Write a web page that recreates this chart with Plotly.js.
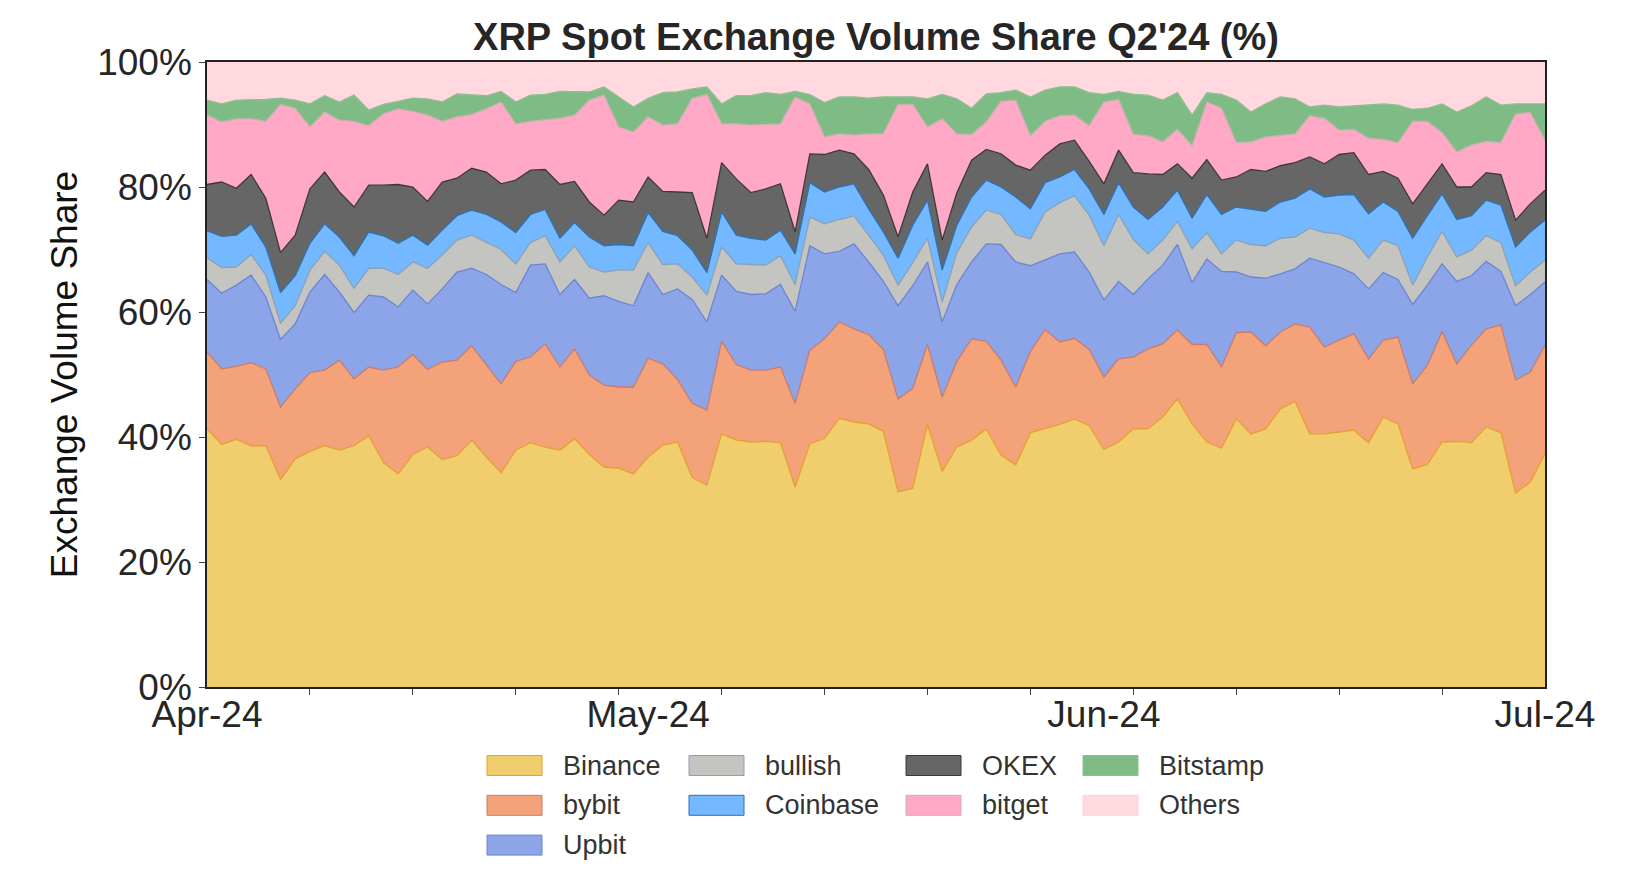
<!DOCTYPE html>
<html>
<head>
<meta charset="utf-8">
<script src="https://cdn.plot.ly/plotly-3.0.1.min.js"></script>
<style>
  html, body { margin: 0; padding: 0; background: #fff; }
  #chart { width: 1634px; height: 884px; }
</style>
</head>
<body>
<div id="chart"></div>
<script>
// Daily share (%) of XRP spot volume, 2024-04-01 .. 2024-07-01
const startDate = '2024-04-01';
const names = ['Binance', 'bybit', 'Upbit', 'bullish', 'Coinbase', 'OKEX', 'bitget', 'Bitstamp', 'Others'];
const yTickVals = [0, 20, 40, 60, 80, 100];
const yTickText = ['0%', '20%', '40%', '60%', '80%', '100%'];

const binance = [41.3,38.8,39.6,38.6,38.6,33.2,36.5,37.7,38.6,37.9,
  38.6,40.2,35.9,34.1,37.2,38.4,36.4,37.0,39.5,36.8,
  34.3,37.9,39.1,38.4,37.9,39.7,37.2,35.2,35.0,34.1,
  36.8,38.7,39.2,33.5,32.3,40.5,39.5,39.2,39.3,39.1,
  32.0,38.9,39.8,43.0,42.4,42.1,40.9,31.2,31.8,42.0,
  34.5,38.4,39.5,41.3,37.1,35.5,40.7,41.4,42.0,42.9,
  41.8,38.0,39.2,41.3,41.3,43.2,46.1,42.1,39.2,38.2,
  42.9,40.5,41.3,44.5,45.7,40.5,40.5,40.8,41.1,39.1,
  43.2,42.1,34.9,35.6,39.2,39.3,39.1,41.6,40.7,31.0,
  32.8,37.3];
const bybit = [12.3,12.1,11.7,13.3,12.3,11.6,11.2,12.6,12.1,14.4,
  10.7,11.0,14.8,17.1,16.0,12.4,15.6,15.3,15.1,14.7,
  14.2,14.2,13.7,16.5,13.3,14.4,12.7,13.1,13.0,13.9,
  15.8,13.0,10.0,11.9,12.0,14.8,12.1,11.5,11.4,12.1,
  13.4,15.0,15.9,15.4,14.9,14.3,13.1,14.9,16.0,12.8,
  11.9,13.7,16.2,14.0,15.2,12.5,13.0,15.8,13.2,12.9,
  12.2,11.6,13.3,11.5,12.8,11.7,11.0,12.7,15.6,13.0,
  13.8,16.3,13.3,12.3,12.4,17.1,13.9,14.7,15.4,13.4,
  12.3,13.9,13.6,15.9,17.7,12.4,15.6,15.7,17.2,18.1,
  17.6,17.4];
const upbit = [11.6,12.1,13.0,14.0,11.5,10.8,10.4,12.9,15.3,10.9,
  10.6,11.5,11.7,9.6,10.3,10.5,11.7,14.1,12.4,14.5,
  15.9,11.0,14.7,12.8,11.6,11.1,12.3,14.3,13.7,13.0,
  13.7,11.1,14.5,16.6,14.1,10.6,11.7,12.1,12.2,13.2,
  14.7,16.7,13.6,11.3,13.6,11.6,10.9,14.9,16.4,13.2,
  12.0,12.3,12.3,15.6,18.5,20.0,13.7,11.2,14.1,13.8,
  12.4,12.3,12.4,10.0,11.2,12.6,13.7,9.9,13.7,15.3,
  9.7,8.8,10.8,9.3,8.8,11.0,13.5,11.7,9.6,11.2,
  10.8,9.2,12.7,12.8,10.8,13.2,11.1,10.8,8.6,11.9,
  12.4,10.1];
const bullish = [3.5,4.1,2.9,3.3,3.5,2.6,2.9,3.5,3.7,4.3,
  3.9,4.3,4.6,5.2,4.5,5.7,5.4,5.1,5.3,5.2,
  5.6,4.6,3.6,4.5,5.2,5.4,5.0,3.8,5.0,5.7,
  4.8,4.8,4.0,3.6,4.3,4.5,4.4,4.8,4.6,4.6,
  4.3,4.6,4.8,5.1,4.5,4.3,4.2,3.3,3.7,3.8,
  3.2,5.1,5.6,5.4,4.8,4.4,4.3,7.6,8.2,9.0,
  9.1,8.7,10.7,8.8,4.0,4.0,3.7,5.4,4.2,2.8,
  5.1,5.2,5.2,5.7,5.1,4.8,4.8,5.3,5.4,4.9,
  5.2,5.4,3.1,4.5,5.2,3.9,4.1,4.1,4.6,3.2,
  3.6,3.5];
const coinbase = [4.3,5.0,5.1,4.9,4.5,4.9,4.8,4.3,4.4,4.5,
  5.2,5.8,5.2,5.0,4.3,3.7,4.0,3.9,4.0,4.4,
  4.4,5.0,4.5,4.2,3.8,3.7,4.8,4.2,4.1,3.9,
  4.8,5.3,4.5,4.3,3.6,5.6,4.6,4.2,4.0,4.1,
  4.9,5.5,5.1,5.2,5.1,4.2,3.7,4.3,6.0,6.1,
  5.1,4.4,4.8,4.8,4.4,6.0,4.8,4.7,4.1,4.2,
  4.2,5.0,5.1,5.2,5.5,5.3,5.0,4.9,6.1,6.3,
  5.3,5.6,5.5,5.8,6.2,6.3,5.7,6.2,7.3,7.1,
  6.1,5.5,7.5,6.6,6.0,6.0,5.5,5.7,6.0,6.2,
  6.4,6.4];
const okex = [7.4,8.7,7.5,7.9,7.8,6.4,6.5,8.7,8.3,7.2,
  7.8,7.5,8.1,9.4,7.7,7.0,7.7,6.0,6.7,6.8,
  6.1,8.4,7.1,6.4,8.6,6.6,5.6,4.9,7.1,7.0,
  5.7,6.4,7.0,9.2,5.5,7.9,9.0,7.3,8.2,7.4,
  3.5,4.6,6.0,5.9,4.8,6.3,5.9,3.4,5.3,5.8,
  4.8,5.2,5.9,4.9,5.3,5.1,6.2,4.4,5.3,4.7,
  4.4,4.9,5.2,5.5,7.3,5.2,4.2,6.4,5.6,5.5,
  4.8,6.4,6.4,5.8,5.7,5.1,5.3,6.5,6.7,6.3,
  4.9,5.3,5.5,5.1,4.8,5.2,4.6,4.4,4.9,4.3,
  4.5,4.8];
const bitget = [11.1,9.6,11.1,8.9,12.3,23.7,20.3,9.9,9.6,11.5,
  13.7,9.5,11.4,12.1,12.1,13.8,9.7,9.8,8.6,10.1,
  13.1,9.0,7.8,7.9,10.6,10.6,16.3,19.2,11.7,11.2,
  9.6,10.6,10.9,15.1,23.0,6.2,8.8,10.8,10.3,9.6,
  21.6,8.0,2.8,2.6,3.0,5.7,9.8,21.2,14.0,5.9,
  19.4,9.4,4.1,4.4,8.4,10.4,5.5,5.4,4.5,4.0,
  5.7,13.1,8.1,6.1,6.1,5.2,5.5,5.2,9.2,11.5,
  5.5,4.4,5.5,4.9,4.6,6.6,7.3,3.9,3.7,5.8,
  5.1,5.7,13.2,10.0,5.0,5.6,6.7,5.0,5.1,17.0,
  14.6,8.0];
const bitstamp = [2.4,2.9,3.0,3.0,3.5,1.0,1.3,3.7,2.6,2.9,
  4.2,2.5,1.5,1.2,2.1,2.6,3.1,3.7,3.2,2.1,
  1.7,3.5,4.2,4.1,4.3,3.8,1.3,1.3,4.8,4.0,
  3.0,5.2,5.1,1.5,1.2,3.2,4.5,4.7,5.1,4.7,
  0.9,1.5,5.5,5.9,6.1,5.7,5.9,1.2,1.2,4.5,
  3.9,5.6,4.2,4.5,1.4,1.6,6.2,5.0,4.6,4.5,
  5.3,1.2,1.3,6.4,6.5,6.7,5.9,4.9,1.5,2.2,
  6.8,4.8,5.3,6.1,5.6,1.4,2.1,3.7,3.8,5.3,
  5.7,6.0,1.9,2.1,4.6,6.4,6.3,7.1,6.0,1.6,
  1.4,5.8];
const others = [6.1,6.7,6.1,6.1,6.0,5.8,6.1,6.7,5.4,6.4,
  5.3,7.7,6.8,6.3,5.8,5.9,6.4,5.1,5.2,5.4,
  4.7,6.4,5.3,5.2,4.7,4.7,4.8,4.0,5.6,7.2,
  5.8,4.9,4.8,4.3,4.0,6.7,5.4,5.4,4.9,5.2,
  4.7,5.2,6.5,5.6,5.6,5.8,5.6,5.6,5.6,5.9,
  5.2,5.9,7.4,5.1,4.9,4.5,5.6,4.5,4.0,4.0,
  4.9,5.2,4.7,5.2,5.3,6.1,4.9,8.5,4.9,5.2,
  6.1,8.0,6.7,5.6,5.9,7.2,6.9,7.2,7.0,6.9,
  6.7,6.9,7.6,7.4,6.7,8.0,7.0,5.6,6.9,6.7,
  6.7,6.7];

const series = [binance, bybit, upbit, bullish, coinbase, okex, bitget, bitstamp, others];

// styling
const fills = ['#F0CE6E', '#F4A279', '#8CA4E8', '#C4C4C0', '#74B9FF', '#666666', '#FFA9C6', '#7FBB85', '#FFD8E0'];
const edges = ['#E6A030', '#C97C6C', '#6A85D6', '#8EA0B2', '#2B72B8', '#3A3A3A', '#CBB0B0', '#8CBF8E', '#FFD0DA'];

// dates
const dates = [];
{
  const [y, m, d] = startDate.split('-').map(Number);
  for (let i = 0; i < binance.length; i++) {
    const dt = new Date(Date.UTC(y, m - 1, d + i));
    dates.push(dt.toISOString().slice(0, 10));
  }
}

const traces = series.map((vals, i) => ({
  type: 'scatter',
  mode: 'lines',
  name: names[i],
  x: dates,
  y: vals,
  stackgroup: 'one',
  groupnorm: i === 0 ? 'percent' : undefined,
  fill: 'tonexty',
  fillcolor: fills[i],
  line: { color: edges[i], width: i === 8 ? 0 : 1.3, shape: 'linear' },
  showlegend: false,
  hoverinfo: 'x+y+name'
}));

// plot area in pixels
const W = 1634, H = 884;
const L = 207, R = 1545, T = 62, B = 687;
const px = x => (x - L) / (R - L);
const py = y => (B - y) / (B - T);

// custom legend (column-major, 4 columns)
const legendCols = [[0, 1, 2], [3, 4], [5, 6], [7, 8]];
const colX = [487, 689, 906, 1083];
const rowY = [765.5, 805.3, 845.1];
const swW = 55, swH = 20, textGap = 74;
const shapes = [];
const annotations = [];
legendCols.forEach((col, c) => {
  col.forEach((idx, r) => {
    const x0 = colX[c], yc = rowY[r];
    shapes.push({
      type: 'rect', xref: 'paper', yref: 'paper',
      x0: px(x0), x1: px(x0 + swW), y0: py(yc + swH / 2), y1: py(yc - swH / 2),
      fillcolor: fills[idx], line: { color: edges[idx], width: 1 }
    });
    annotations.push({
      xref: 'paper', yref: 'paper', x: px(x0 + textGap), y: py(yc),
      xanchor: 'left', yanchor: 'middle', showarrow: false,
      text: names[idx], font: { family: 'Liberation Sans, Arial, sans-serif', size: 27, color: '#333333' }
    });
  });
});

const layout = {
  width: W, height: H,
  margin: { l: L, r: W - R, t: T, b: H - B, pad: 0 },
  paper_bgcolor: '#ffffff',
  plot_bgcolor: '#ffffff',
  font: { family: 'Liberation Sans, Arial, sans-serif', color: '#262626' },
  title: {
    text: "XRP Spot Exchange Volume Share Q2'24 (%)",
    font: { size: 38, weight: 'bold', color: '#262626', family: 'Liberation Sans, Arial, sans-serif' },
    xref: 'paper', x: 0.5, xanchor: 'center',
    yref: 'container', y: 1 - 37 / H, yanchor: 'middle'
  },
  xaxis: {
    type: 'date',
    range: ['2024-04-01', '2024-07-01'],
    tick0: '2024-04-01', dtick: 'M1', tickformat: '%b-%y',
    ticks: '', showgrid: false, zeroline: false,
    showline: true, mirror: true, linecolor: '#222222', linewidth: 1.8,
    tickfont: { size: 37, color: '#262626' },
    ticklabelstandoff: -6,
    minor: { tick0: '2024-04-01', dtick: 7 * 86400000, ticks: 'outside', ticklen: 6, tickwidth: 1, tickcolor: '#444444', showgrid: false },
    fixedrange: true
  },
  yaxis: {
    range: [0, 100],
    tickmode: 'array', tickvals: yTickVals, ticktext: yTickText,
    ticks: 'outside', ticklen: 6, tickwidth: 1, tickcolor: '#444444',
    showgrid: false, zeroline: false,
    showline: true, mirror: true, linecolor: '#222222', linewidth: 1.8,
    tickfont: { size: 37, color: '#262626' },
    title: { text: 'Exchange Volume Share', font: { size: 37, color: '#111111' }, standoff: 8 },
    fixedrange: true
  },
  shapes: shapes,
  annotations: annotations,
  showlegend: false
};

Plotly.newPlot('chart', traces, layout, { displayModeBar: false, staticPlot: true });
</script>
</body>
</html>
